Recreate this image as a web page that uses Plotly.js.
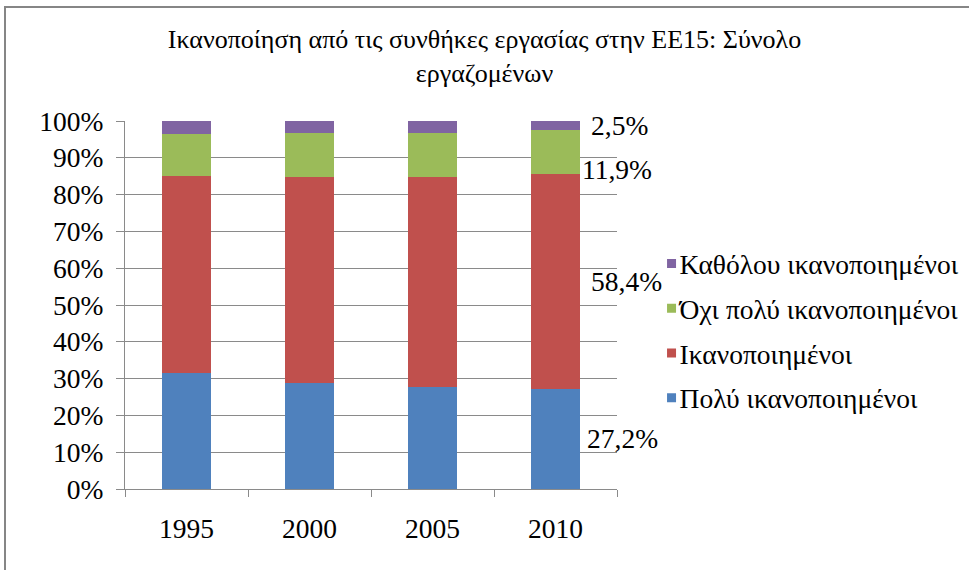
<!DOCTYPE html>
<html>
<head>
<meta charset="utf-8">
<script src="https://cdn.plot.ly/plotly-3.0.1.min.js"></script>
<style>
  html, body { margin: 0; padding: 0; background: #fff; }
  #chart { position: absolute; left: 0; top: 0; width: 969px; height: 570px; }
  #frame { position: absolute; left: 4px; top: 6px; width: 980px; height: 600px;
           border-left: 2px solid #868686; border-top: 2px solid #868686;
           pointer-events: none; box-sizing: border-box; }
</style>
</head>
<body>
<div id="chart"></div>
<div id="frame"></div>
<script>
// ---- Data ----
const years = ['1995', '2000', '2005', '2010'];
const seriesNames = ['Πολύ ικανοποιημένοι', 'Ικανοποιημένοι', 'Όχι πολύ ικανοποιημένοι', 'Καθόλου ικανοποιημένοι'];
const veryS   = [31.6, 28.8, 27.7, 27.2];
const satis   = [53.5, 56.0, 57.1, 58.4];
const notVery = [11.3, 11.9, 11.9, 11.9];
const notAll  = [3.6, 3.3, 3.3, 2.5];
const titleText = 'Ικανοποίηση από τις συνθήκες εργασίας στην ΕΕ15: Σύνολο<br>εργαζομένων';

// ---- Styles ----
const colors = ['#4F81BD', '#C0504D', '#9BBB59', '#8064A2'];
const FONT = 'Liberation Serif';
const labelXShift = [29, 33, 24, 33];
const labelYShift = [0, 0, -17, 0];

const values = [veryS, satis, notVery, notAll];
const traces = values.map((v, i) => ({
  type: 'bar',
  name: seriesNames[i],
  x: years,
  y: v,
  marker: { color: colors[i] },
  legendgroup: 'g' + i,
  legendrank: 10 - i
}));

const last = years.length - 1;
let cum = 0;
const annotations = values.map((v, i) => {
  const val = v[last];
  const mid = cum + val / 2;
  cum += val;
  return {
    x: last, y: mid, xref: 'x', yref: 'y',
    text: val.toFixed(1).replace('.', ',') + '%',
    showarrow: false, xanchor: 'left', yanchor: 'middle',
    xshift: labelXShift[i], yshift: labelYShift[i],
    font: { family: FONT, size: 27.5, color: '#000' }
  };
});

const layout = {
  width: 969, height: 570,
  margin: { l: 125, r: 352, t: 121, b: 81 },
  paper_bgcolor: '#fff', plot_bgcolor: '#fff',
  font: { family: FONT, color: '#000' },
  barmode: 'stack',
  bargap: 0.606,
  title: {
    text: titleText,
    font: { family: FONT, size: 26, color: '#000' },
    x: 0.5, xanchor: 'center', y: 0.915, yanchor: 'top'
  },
  xaxis: {
    type: 'category',
    range: [-0.5, years.length - 0.5],
    showline: true, linecolor: '#8a8a8a', linewidth: 1,
    ticks: 'outside', tickson: 'boundaries', ticklen: 7, tickcolor: '#8a8a8a',
    tickfont: { family: FONT, size: 27.5, color: '#000' },
    ticklabelstandoff: 15,
    showgrid: false, zeroline: false
  },
  yaxis: {
    range: [0, 100], dtick: 10, ticksuffix: '%',
    showline: true, linecolor: '#8a8a8a', linewidth: 1,
    ticks: 'outside', ticklen: 8, tickcolor: '#8a8a8a',
    tickfont: { family: FONT, size: 27.5, color: '#000' },
    ticklabelstandoff: 7,
    showgrid: true, gridcolor: '#8a8a8a', gridwidth: 1,
    zeroline: false
  },
  legend: {
    traceorder: 'grouped',
    tracegroupgap: 6,
    xref: 'container', yref: 'container',
    x: 0.66, xanchor: 'left', y: 0.42, yanchor: 'middle',
    font: { family: FONT, size: 27.5, color: '#000' },
    bgcolor: 'rgba(0,0,0,0)'
  },
  annotations: annotations,
  showlegend: true
};

Plotly.newPlot('chart', traces, layout, { displayModeBar: false, staticPlot: true }).then(gd => {
  gd.querySelectorAll('.legend .legendpoints path').forEach(p => {
    p.setAttribute('transform', 'translate(32,0) scale(0.75)');
  });
});
</script>
</body>
</html>
